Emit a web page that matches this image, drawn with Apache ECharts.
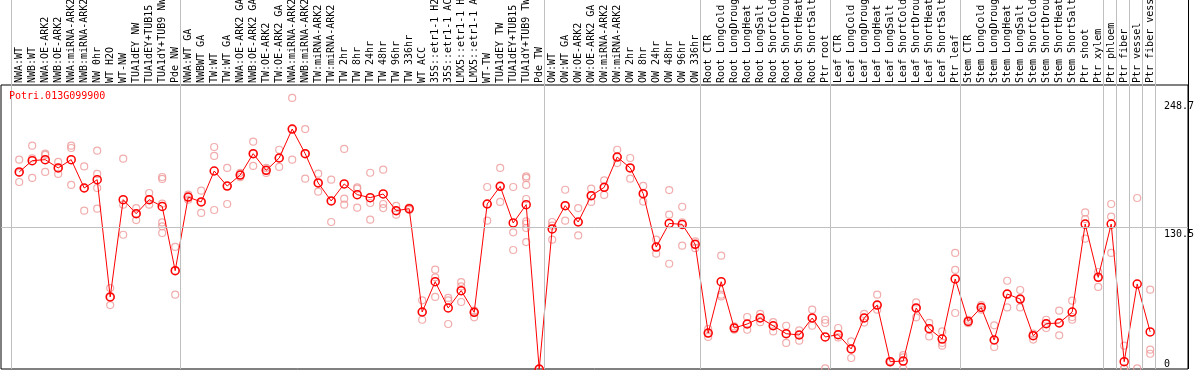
<!DOCTYPE html>
<html><head><meta charset="utf-8">
<style>html,body{margin:0;padding:0;background:#fff}#c{width:1194px;height:370px}</style>
<script src="https://cdn.jsdelivr.net/npm/echarts@6/dist/echarts.min.js"></script>
</head><body><div id="c"></div>
<script>
const geneName = 'Potri.013G099900';
const categories = [
 'NWA:WT','NWB:WT','NWA:OE-ARK2','NWB:OE-ARK2','NWA:miRNA-ARK2','NWB:miRNA-ARK2','NW 0hr','WT H2O','WT-NW','TUA1dEY NW',
 'TUA1dEY+TUB15 NW','TUA1dY+TUB9 NW','Pde NW','NWA:WT GA','NWBWT GA','TW:WT','TW:WT GA','NWA:OE-ARK2 GA','NWB:OE-ARK2 GA','TW:OE-ARK2',
 'TW:OE-ARK2 GA','NWA:miRNA-ARK2 GA','NWB:miRNA-ARK2 GA','TW:miRNA-ARK2','TW:miRNA-ARK2','TW 2hr','TW 8hr','TW 24hr','TW 48hr','TW 96hr',
 'TW 336hr','WT ACC','35S::etr1-1 H2O','35S::etr1-1 ACC','LMX5::etr1-1 H2O','LMX5::etr1-1 ACC','WT-TW','TUA1dEY TW','TUA1dEY+TUB15 TW','TUA1dY+TUB9 TW',
 'Pde TW','OW:WT','OW:WT GA','OW:OE-ARK2','OW:OE-ARK2 GA','OW:miRNA-ARK2','OW:miRNA-ARK2','OW 2hr','OW 8hr','OW 24hr',
 'OW 48hr','OW 96hr','OW 336hr','Root CTR','Root LongCold','Root LongDrought','Root LongHeat','Root LongSalt','Root ShortCold','Root ShortDrought',
 'Root ShortHeat','Root ShortSalt','Ptr root','Leaf CTR','Leaf LongCold','Leaf LongDrought','Leaf LongHeat','Leaf LongSalt','Leaf ShortCold','Leaf ShortDrought',
 'Leaf ShortHeat','Leaf ShortSalt','Ptr leaf','Stem CTR','Stem LongCold','Stem LongDrought','Stem LongHeat','Stem LongSalt','Stem ShortCold','Stem ShortDrought',
 'Stem ShortHeat','Stem ShortSalt','Ptr shoot','Ptr xylem','Ptr phloem','Ptr fiber','Ptr vessel','Ptr fiber vessel'
];
const means = [
 180.8,191.2,192.1,184.5,192.1,166.1,173.7,66.1,155.4,142.5,
 155.4,149.2,90.2,157.8,153.3,181.7,167.9,178.0,197.6,182.3,
 193.6,220.2,197.6,170.7,154.2,169.8,160.0,157.2,160.6,145.3,
 147.1,52.3,80.1,56.0,71.9,52.0,151.4,167.6,134.0,150.8,
 0,128.5,149.9,134.9,159.0,166.7,194.5,184.5,160.9,111.9,
 133.6,132.7,114.4,33.0,80.1,37.6,41.3,46.8,39.7,32.4,
 31.2,46.8,29.4,31.5,18.4,46.8,58.7,6.7,7.3,56.0,
 37.0,27.5,82.6,43.7,56.5,26.6,68.8,64.2,30.6,41.6,
 42.2,52.3,133.0,84.1,133.0,6.7,78.0,34.0
];
const replicates = [
 [192.1,180,171.6],[204.9,193.3,175.3],[197.6,196.4,180.8],[190,184.5,179],[204.9,202.8,168.9],
 [185.9,166,145.3],[200.3,179,166.1,147.1],[74.3,66,58.7],[193,150.8,123.2],[147.7,142.5,136.7],
 [161.5,155.4,150.8],[176.2,174.4,151.7,134.5,130.9,124.8],[112,90.2,68.2],[157.8,155.4,160],[163.6,153.3,143.2],
 [203.7,195.5,145.9],[184.5,167.9,151.4],[180,178,176],[208.6,197.6,186.3],[184.5,182.3,179.9],
 [201.2,193.6,185.4],[248.7,220.2,192.1],[220.2,197.6,174.6],[179.2,170.7,162.7],[173.7,154.2,134.9],
 [201.9,156.3,150.8],[166.7,165.5,148],[180.1,152.3,137],[182.9,151.4,147.7],[149.6,145.3,141.6],
 [148,147,146],[63,52.3,45.2],[91.1,84.1,66.1],[65.2,63,41.3],[79.8,75.8,61.5],
 [53.5,52,47.4],[167,151.4,136.1],[184.5,167.6,153.3],[167,125.4,109.2],[176.8,175.3,168.9,156,135.5,133.3,129.4,116.5],
 [0,0,0],[134.9,131.5,118.7],[164.5,149.9,136.1],[147.7,134.9,122.6],[165.5,159,153.3],
 [173.1,166.7,159.7],[201.2,194.5,189],[193.6,184.5,174.6],[168,160.9,153.6],[118.7,111.9,105.8],
 [164.2,141.6,96.6],[148.9,134.5,113.2],[117.1,114.4,110.9],[36.7,33,29.4],[104,68.2,66.6],
 [39.1,37.6,36],[47.7,41.3,36],[50.5,46.8,43],[43,39.7,34.5],[39.7,32.4,23.9],
 [35.4,31.2,26],[54.4,46.8,39.7],[45.2,42.2,0.5],[37.6,31.5,29],[25.4,18.4,10.1],
 [50.5,46.8,42.6],[68.2,58.7,54.4],[7.3,6.7,6],[12.8,10.7,0.5],[61.1,56,47.4],
 [42.4,37,29.9],[34.5,23.9,21.4],[106.5,90.9,51.4],[45.2,43.7,42],[58.7,56.5,54.4],
 [40.1,26.6,20.2],[81,68.8,56.5],[72.5,64.2,56.5],[32.4,30.6,27],[45.2,41.6,37.6],
 [53.5,42.2,30.9],[62.7,47.7,45.2],[143.7,137.6,119.6],[89,84.1,75.3],[151.4,139.8,106.5],
 [21.4,0.5,0.5],[156.9,0.5],[72.8,17.7,14]
];
const yTickValuesTop = [130.5, 248.7];
const yTickValuesBottom = [0];
const refLineValue = 130.5;
const separatorAfter = [-1, 12, 40, 52, 62, 72, 83, 84, 85, 86, 87];

const X_MIN = -1.4, X_MAX = 89.908, Y_MAX = 260.6;
const mono = 'DejaVu Sans Mono';

const repData = [];
replicates.forEach((arr, i) => arr.forEach(v => repData.push([i, v])));
const meanData = means.map((v, i) => [i, v]);

const chart = echarts.init(document.getElementById('c'), null, {renderer: 'canvas'});
const yLabelAxis = (vals, va) => ({
  gridIndex: 1, type: 'value', min: 0, max: Y_MAX, position: 'right', offset: -26,
  axisLine: {show: false}, axisTick: {show: false}, splitLine: {show: false},
  axisLabel: {customValues: vals, verticalAlign: va, align: 'left', margin: 2,
    fontFamily: mono, fontSize: 10, color: '#000', padding: va === 'top' ? [3,0,0,0] : 0}
});
chart.setOption({
  animation: false,
  backgroundColor: '#fff',
  title: {text: geneName, left: 9, top: 91, padding: 0,
    textStyle: {color: '#ff0000', fontSize: 10, fontWeight: 'normal', fontFamily: mono}},
  grid: [
    {left: 1, right: 6, top: 0, bottom: 1, show: false, containLabel: false, outerBoundsMode: 'none'},
    {left: 1, right: 6, top: 85, bottom: 1, show: true, borderColor: '#000', borderWidth: 1, backgroundColor: 'transparent', containLabel: false, outerBoundsMode: 'none'},
    {left: 12.8, width: 1144, top: 85, bottom: 1, show: false, containLabel: false, outerBoundsMode: 'none'}
  ],
  xAxis: [
    {gridIndex: 0, type: 'value', min: X_MIN, max: X_MAX, show: false},
    {gridIndex: 1, type: 'value', min: X_MIN, max: X_MAX, show: false},
    {gridIndex: 2, type: 'category', position: 'top', data: categories, boundaryGap: true,
      axisLine: {show: false}, axisTick: {show: false}, splitLine: {show: false},
      axisLabel: {interval: 0, rotate: 90, margin: 2, fontSize: 10, fontFamily: mono, color: '#000', hideOverlap: false}}
  ],
  yAxis: [
    {gridIndex: 0, type: 'value', min: 0, max: 1, show: false},
    yLabelAxis(yTickValuesTop, 'top'),
    yLabelAxis(yTickValuesBottom, 'bottom'),
    {gridIndex: 2, type: 'value', min: 0, max: 1, show: false}
  ],
  series: [
    {type: 'line', xAxisIndex: 0, yAxisIndex: 0, data: [[X_MIN, 0]], showSymbol: false, silent: true,
      lineStyle: {width: 0},
      markLine: {silent: true, symbol: 'none', label: {show: false},
        lineStyle: {color: '#c0c0c0', width: 1, type: 'solid'},
        data: separatorAfter.map(i => ({xAxis: i + 0.385})).concat([
          {xAxis: X_MAX - 0.02, lineStyle: {color: '#000', width: 1, type: 'solid'}}
        ])}},
    {type: 'scatter', xAxisIndex: 1, yAxisIndex: 1, data: repData, symbol: 'circle', symbolSize: 7,
      itemStyle: {color: 'rgba(0,0,0,0)', borderColor: '#ee9898', borderWidth: 1.2}, z: 2,
      markLine: {silent: true, symbol: 'none', label: {show: false},
        lineStyle: {color: '#c0c0c0', width: 1, type: 'solid'}, data: [{yAxis: refLineValue}]}},
    {type: 'line', xAxisIndex: 1, yAxisIndex: 1, data: meanData, symbol: 'circle', symbolSize: 8, showAllSymbol: true,
      lineStyle: {color: '#ff0000', width: 1},
      itemStyle: {color: 'rgba(0,0,0,0)', borderColor: '#ff0000', borderWidth: 1.5}, z: 3}
  ]
});
</script></body></html>
